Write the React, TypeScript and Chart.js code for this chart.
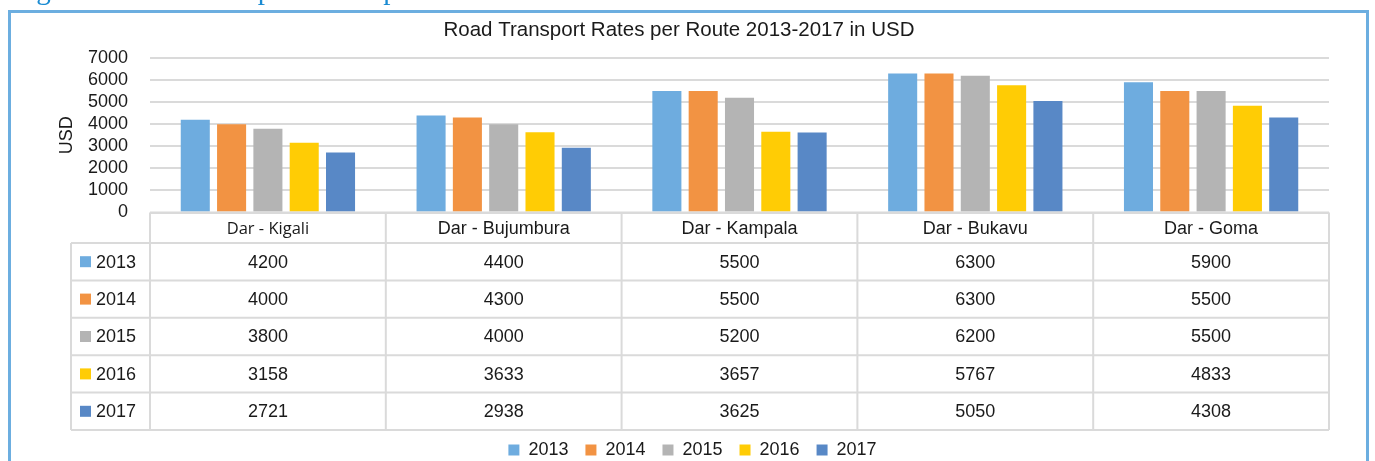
import React, { useEffect, useRef } from 'react';
import { Chart, registerables } from 'chart.js';

Chart.register(...registerables);

const captionText = 'Figure 5: Road Transport Rates per Route';
const chartTitle = 'Road Transport Rates per Route 2013-2017 in USD';
const yAxisTitle = 'USD';
const categories = ['Dar - Kigali', 'Dar - Bujumbura', 'Dar - Kampala', 'Dar - Bukavu', 'Dar - Goma'];
const seriesLabels = ['2013', '2014', '2015', '2016', '2017'];
const values2013 = [4200, 4400, 5500, 6300, 5900];
const values2014 = [4000, 4300, 5500, 6300, 5500];
const values2015 = [3800, 4000, 5200, 6200, 5500];
const values2016 = [3158, 3633, 3657, 5767, 4833];
const values2017 = [2721, 2938, 3625, 5050, 4308];
const seriesValues = [values2013, values2014, values2015, values2016, values2017];
const yMin = 0;
const yMax = 7000;
const yStep = 1000;

const seriesColors = ['#6eacdf', '#f29343', '#b4b4b4', '#ffcc05', '#5888c6'];
const FONT = '"Liberation Sans", Arial, Helvetica, sans-serif';
const TEXT = '#1a1a1a';
const LINE = '#dadada';

const tablePlugin = {
  id: 'dataTable',
  afterDraw(chart: any) {
    const { ctx, chartArea, scales } = chart;
    const x = scales.x;
    const n = categories.length;
    const catW = (x.right - x.left) / n;
    const top = chartArea.bottom;
    const headerH = 30.5;
    const rowH = 37.4;
    const leftX = 71;
    const rowsTop = top + headerH;
    const bottom = rowsTop + rowH * seriesLabels.length;

    ctx.save();
    ctx.strokeStyle = LINE;
    ctx.lineWidth = 2;
    ctx.beginPath();
    ctx.moveTo(x.left, top);
    ctx.lineTo(x.right, top);
    for (let r = 0; r <= seriesLabels.length; r++) {
      const y = rowsTop + r * rowH;
      ctx.moveTo(leftX, y);
      ctx.lineTo(x.right, y);
    }
    ctx.moveTo(leftX, rowsTop);
    ctx.lineTo(leftX, bottom);
    for (let i = 0; i <= n; i++) {
      const xx = x.left + i * catW;
      ctx.moveTo(xx, top);
      ctx.lineTo(xx, bottom);
    }
    ctx.stroke();

    ctx.fillStyle = TEXT;
    ctx.textAlign = 'center';
    ctx.textBaseline = 'middle';
    categories.forEach((c, i) => {
      const cx = x.getPixelForValue(i);
      ctx.font = i === 0 ? '16.5px "Open Sans", sans-serif' : '18px ' + FONT;
      ctx.fillText(c, cx, top + headerH / 2 + 1.5);
    });

    ctx.font = '18px ' + FONT;
    seriesLabels.forEach((s, r) => {
      const cy = rowsTop + r * rowH + rowH / 2 + 1;
      ctx.fillStyle = seriesColors[r];
      ctx.fillRect(80, cy - 6.5, 11, 11);
      ctx.fillStyle = TEXT;
      ctx.textAlign = 'left';
      ctx.fillText(s, 96, cy);
      ctx.textAlign = 'center';
      seriesValues[r].forEach((v, i) => {
        ctx.fillText(String(v), x.getPixelForValue(i), cy);
      });
    });
    ctx.restore();
  },
};

const titleShiftPlugin = {
  id: 'titleShift',
  afterLayout(chart: any) {
    const t = chart.titleBlock;
    if (t) {
      t.left -= 13.5;
      t.right -= 13.5;
    }
  },
};

export default function App() {
  const ref = useRef<HTMLCanvasElement | null>(null);

  useEffect(() => {
    if (!ref.current) return;
    const chart = new Chart(ref.current, {
      type: 'bar',
      data: {
        labels: categories,
        datasets: seriesLabels.map((s, i) => ({
          label: s,
          data: seriesValues[i],
          backgroundColor: seriesColors[i],
          borderWidth: 0,
          barPercentage: 0.8,
          categoryPercentage: 0.77,
        })),
      },
      options: {
        responsive: false,
        animation: false,
        layout: { padding: { left: 56, right: 46, top: 0, bottom: 11 } },
        plugins: {
          title: {
            display: true,
            text: chartTitle,
            color: TEXT,
            font: { family: FONT, size: 20.5, weight: 'normal' },
            padding: { top: 17.7, bottom: 15.7 },
          },
          legend: {
            position: 'bottom',
            labels: {
              color: TEXT,
              font: { family: FONT, size: 18 },
              boxWidth: 11,
              boxHeight: 11,
              padding: 17,
            },
          },
          tooltip: { enabled: false },
        },
        scales: {
          x: {
            ticks: { display: false },
            grid: { display: false, drawTicks: false },
            border: { display: false },
            afterFit: (scale: any) => {
              scale.height = 211.5;
            },
          },
          y: {
            min: yMin,
            max: yMax,
            ticks: {
              stepSize: yStep,
              autoSkip: false,
              color: TEXT,
              font: { family: FONT, size: 18 },
              padding: 22,
              callback: (v: any) => String(v),
            },
            grid: { color: LINE, lineWidth: 2, drawTicks: false },
            border: { display: false },
            title: {
              display: true,
              text: yAxisTitle,
              color: TEXT,
              font: { family: FONT, size: 18 },
              padding: { top: 0, bottom: 0 },
            },
            afterFit: (scale: any) => {
              scale.width = 94;
            },
          },
        },
      },
      plugins: [tablePlugin, titleShiftPlugin],
    } as any);
    return () => chart.destroy();
  }, []);

  return (
    <div
      style={{
        position: 'fixed',
        left: 0,
        top: 0,
        width: 1375,
        height: 461,
        overflow: 'hidden',
        background: '#fff',
      }}
    >
      <canvas ref={ref} width={1375} height={480} style={{ position: 'absolute', left: 0, top: 0 }} />
      <div
        style={{
          position: 'absolute',
          left: 8,
          top: 10,
          width: 1361,
          height: 600,
          border: '3px solid #6caee0',
          boxSizing: 'border-box',
          pointerEvents: 'none',
        }}
      />
      <div
        style={{
          position: 'absolute',
          left: 12,
          top: -25,
          fontFamily: '"Liberation Serif", "Times New Roman", serif',
          fontSize: 29,
          lineHeight: '29px',
          color: '#1a8bd2',
          whiteSpace: 'nowrap',
        }}
      >
        {captionText}
      </div>
    </div>
  );
}
